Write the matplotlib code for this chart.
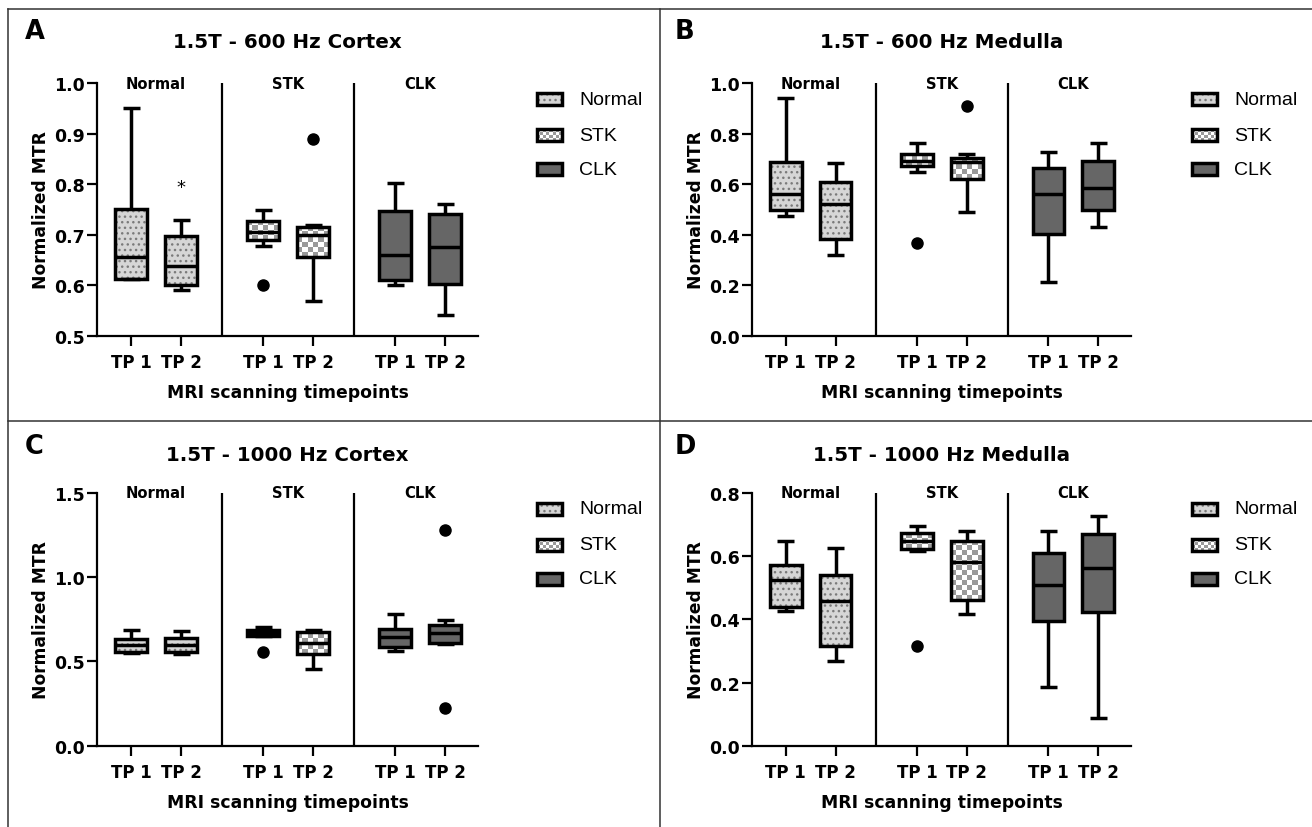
import numpy as np
import matplotlib
matplotlib.use("Agg")
import matplotlib.pyplot as plt
from matplotlib.patches import PathPatch, Rectangle
from matplotlib.colors import ListedColormap
from matplotlib.lines import Line2D

# ---------------- data ----------------
groups = ["Normal", "STK", "CLK"]
timepoints = ["TP 1", "TP 2"]
panel_letters = ["A", "B", "C", "D"]
panel_titles = ["1.5T - 600 Hz Cortex", "1.5T - 600 Hz Medulla",
                "1.5T - 1000 Hz Cortex", "1.5T - 1000 Hz Medulla"]
y_limits = [(0.5, 1.0), (0.0, 1.0), (0.0, 1.5), (0.0, 0.8)]
y_ticks = [[0.5, 0.6, 0.7, 0.8, 0.9, 1.0],
           [0.0, 0.2, 0.4, 0.6, 0.8, 1.0],
           [0.0, 0.5, 1.0, 1.5],
           [0.0, 0.2, 0.4, 0.6, 0.8]]

# box summaries per box: [whisker low, Q1, median, Q3, whisker high]
# order: Normal TP1, Normal TP2, STK TP1, STK TP2, CLK TP1, CLK TP2
cortex_600 = [[0.612, 0.612, 0.655, 0.751, 0.951],
              [0.590, 0.600, 0.639, 0.697, 0.730],
              [0.678, 0.690, 0.705, 0.728, 0.750],
              [0.569, 0.655, 0.700, 0.715, 0.719],
              [0.600, 0.611, 0.660, 0.748, 0.802],
              [0.541, 0.602, 0.675, 0.742, 0.761]]
cortex_600_outliers = [[], [], [0.600], [0.890], [], []]

medulla_600 = [[0.476, 0.498, 0.561, 0.687, 0.942],
               [0.320, 0.383, 0.522, 0.608, 0.683],
               [0.650, 0.674, 0.694, 0.720, 0.762],
               [0.491, 0.621, 0.687, 0.704, 0.720],
               [0.211, 0.403, 0.561, 0.664, 0.729],
               [0.429, 0.498, 0.585, 0.694, 0.762]]
medulla_600_outliers = [[], [], [0.366], [0.909], [], []]

cortex_1000 = [[0.552, 0.554, 0.600, 0.635, 0.689],
               [0.544, 0.556, 0.598, 0.641, 0.679],
               [0.649, 0.652, 0.670, 0.689, 0.702],
               [0.455, 0.546, 0.609, 0.673, 0.689],
               [0.560, 0.584, 0.645, 0.695, 0.782],
               [0.604, 0.609, 0.669, 0.718, 0.744]]
cortex_1000_outliers = [[], [], [0.554], [], [], [1.282, 0.224]]

medulla_1000 = [[0.428, 0.439, 0.526, 0.571, 0.647],
                [0.269, 0.317, 0.457, 0.541, 0.626],
                [0.615, 0.624, 0.647, 0.673, 0.697],
                [0.418, 0.460, 0.582, 0.647, 0.679],
                [0.186, 0.396, 0.508, 0.610, 0.679],
                [0.088, 0.422, 0.563, 0.670, 0.726]]
medulla_1000_outliers = [[], [], [0.317], [], [], []]

panel_data = [cortex_600, medulla_600, cortex_1000, medulla_1000]
panel_outliers = [cortex_600_outliers, medulla_600_outliers,
                  cortex_1000_outliers, medulla_1000_outliers]
# significance marker (panel A, Normal TP2)
star_value = 0.794

# ---------------- style ----------------
BOLD = "DejaVu Sans"
REG = "Liberation Sans"
LW = 2.5
AX_LW = 1.6
NORMAL_FACE = "#d6d6d6"
NORMAL_DOT = "#7a7a7a"
CHECK_GRAY = "#9a9a9a"
CLK_FACE = "#666666"

positions = [1.0, 2.0, 3.64, 4.64, 6.28, 7.28]
dividers = [2.82, 5.46]
group_centers = [1.5, 4.14, 6.78]
XLIM = (0.32, 7.94)

W, H = 1312, 828
fig = plt.figure(figsize=(W / 100, H / 100), dpi=100)

# panel border lines (figure pixels)
def fig_line(x0, y0, x1, y1):
    fig.add_artist(Line2D([x0 / W, x1 / W], [1 - y0 / H, 1 - y1 / H],
                          transform=fig.transFigure, color="#333333", lw=1.1))

fig_line(8, 10, 8, 828)
fig_line(8, 10, 1312, 10)
fig_line(660, 10, 660, 828)
fig_line(8, 422, 1312, 422)

axes_px = [(97, 84.3, 478, 336.7), (752, 84.3, 1131, 336.7),
           (97, 494, 478, 746.7), (752, 494, 1131, 746.7)]
letter_px = [(25, 32), (675, 32), (25, 447), (675, 447)]
title_y_px = [43, 43, 456, 456]


def checker(ax, x0, x1, y0, y1, clip, transform, cell=5.0):
    p0 = transform.transform((x0, y0))
    p1 = transform.transform((x1, y1))
    ncol = max(1, int(round(abs(p1[0] - p0[0]) / cell)))
    nrow = max(1, int(round(abs(p1[1] - p0[1]) / cell)))
    img = np.add.outer(np.arange(nrow), np.arange(ncol)) % 2
    im = ax.imshow(img, cmap=ListedColormap(["white", CHECK_GRAY]),
                   extent=(x0, x1, y0, y1), origin="lower", aspect="auto",
                   interpolation="nearest", zorder=1.5, transform=transform,
                   clip_on=True)
    im.set_clip_path(clip)
    return im


for k in range(4):
    l, t, r, b = axes_px[k]
    ax = fig.add_axes([l / W, 1 - b / H, (r - l) / W, (b - t) / H])
    ax.set_xlim(*XLIM)
    ax.set_ylim(*y_limits[k])
    ax_h = b - t
    ax_w = r - l

    stats = []
    for (lo, q1, med, q3, hi), fl in zip(panel_data[k], panel_outliers[k]):
        stats.append(dict(whislo=lo, q1=q1, med=med, q3=q3, whishi=hi, fliers=fl))
    bp = ax.bxp(stats, positions=positions, widths=0.64, capwidths=0.34,
                patch_artist=True, showfliers=True, manage_ticks=False,
                boxprops=dict(linewidth=LW, edgecolor="black", facecolor="none",
                              zorder=3, joinstyle="miter"),
                whiskerprops=dict(linewidth=LW, color="black", zorder=2,
                                  solid_capstyle="butt"),
                capprops=dict(linewidth=LW, color="black", zorder=2,
                              solid_capstyle="butt"),
                medianprops=dict(linewidth=LW, color="black", zorder=3.5,
                                 solid_capstyle="butt"),
                flierprops=dict(marker="o", markerfacecolor="black",
                                markeredgecolor="black", markersize=8,
                                linestyle="none", zorder=4))

    for i, box in enumerate(bp["boxes"]):
        g = i // 2
        path = box.get_path()
        if g == 0:
            ax.add_patch(PathPatch(path, facecolor=NORMAL_FACE, edgecolor=NORMAL_DOT,
                                   hatch="...", lw=0, zorder=1.5))
        elif g == 1:
            ext = path.get_extents()
            checker(ax, ext.x0, ext.x1, ext.y0, ext.y1, box, ax.transData)
        else:
            ax.add_patch(PathPatch(path, facecolor=CLK_FACE, lw=0, zorder=1.5))

    ax.set_xlim(*XLIM)
    ax.set_ylim(*y_limits[k])

    # group dividers
    for d in dividers:
        ax.plot([d, d], list(y_limits[k]), color="black", lw=AX_LW, zorder=1,
                solid_capstyle="butt")
    for gname, gc in zip(groups, group_centers):
        ax.text(gc, 1.0, gname, transform=ax.get_xaxis_transform(), ha="center",
                va="center", fontsize=10.6, fontweight="bold", family=BOLD)

    # axes styling
    for s in ["top", "right"]:
        ax.spines[s].set_visible(False)
    for s in ["left", "bottom"]:
        ax.spines[s].set_linewidth(AX_LW)
    ax.set_xticks(positions)
    ax.set_xticklabels(timepoints * 3, fontsize=12, fontweight="bold", family=BOLD)
    ax.set_yticks(y_ticks[k])
    ax.set_yticklabels([f"{v:.1f}" for v in y_ticks[k]], fontsize=12.5,
                       fontweight="bold", family=BOLD)
    ax.tick_params(axis="both", direction="out", length=7.5, width=AX_LW)
    ax.tick_params(axis="y", pad=1)
    ax.tick_params(axis="x", pad=5)
    ax.set_ylabel("Normalized MTR", fontsize=12.3, fontweight="bold", family=BOLD)
    ax.yaxis.set_label_coords(-56 / ax_w, 0.5)
    ax.set_xlabel("MRI scanning timepoints", fontsize=12.4, fontweight="bold", family=BOLD)
    ax.xaxis.set_label_coords(0.5, -56 / ax_h)
    ax.xaxis.label.set_va("center")
    ax.yaxis.label.set_va("center")

    # title and panel letter
    cx = (l + r) / 2
    fig.text(cx / W, 1 - title_y_px[k] / H, panel_titles[k], ha="center", va="center",
             fontsize=14.3, fontweight="bold", family=BOLD)
    lx, ly = letter_px[k]
    fig.text(lx / W, 1 - ly / H, panel_letters[k], ha="left", va="center",
             fontsize=18.5, fontweight="bold", family=BOLD)

    if k == 0:
        ax.text(positions[1], star_value, "*", ha="center", va="center",
                fontsize=13, family=BOLD, zorder=5)

    # manual legend (axes fraction coords)
    sx0 = 440 / ax_w
    sx1 = 465 / ax_w
    tx = 482 / ax_w
    sh = 12 / ax_h
    rows = [(336.7 - 100) / 252.4, (336.7 - 136) / 252.4, (336.7 - 170) / 252.4]
    for j, (gname, ry) in enumerate(zip(groups, rows)):
        y0, y1 = ry - sh / 2, ry + sh / 2
        if j == 0:
            ax.add_patch(Rectangle((sx0, y0), sx1 - sx0, y1 - y0, transform=ax.transAxes,
                                   facecolor=NORMAL_FACE, edgecolor=NORMAL_DOT, hatch="...",
                                   lw=0, clip_on=False, zorder=5))
        elif j == 1:
            rect = Rectangle((sx0, y0), sx1 - sx0, y1 - y0, transform=ax.transAxes,
                             facecolor="white", lw=0, clip_on=False, zorder=5)
            ax.add_patch(rect)
            im = checker(ax, sx0, sx1, y0, y1, None, ax.transAxes, cell=3.0)
            im.set_clip_on(False)
            im.set_zorder(5)
        else:
            ax.add_patch(Rectangle((sx0, y0), sx1 - sx0, y1 - y0, transform=ax.transAxes,
                                   facecolor=CLK_FACE, lw=0, clip_on=False, zorder=5))
        ax.add_patch(Rectangle((sx0, y0), sx1 - sx0, y1 - y0, transform=ax.transAxes,
                               facecolor="none", edgecolor="black", lw=2.5,
                               joinstyle="miter", clip_on=False, zorder=6))
        ax.text(tx, ry, gname, transform=ax.transAxes, ha="left", va="center",
                fontsize=14, family=REG)

    ax.set_xlim(*XLIM)
    ax.set_ylim(*y_limits[k])

fig.savefig("out.png", dpi=100)
